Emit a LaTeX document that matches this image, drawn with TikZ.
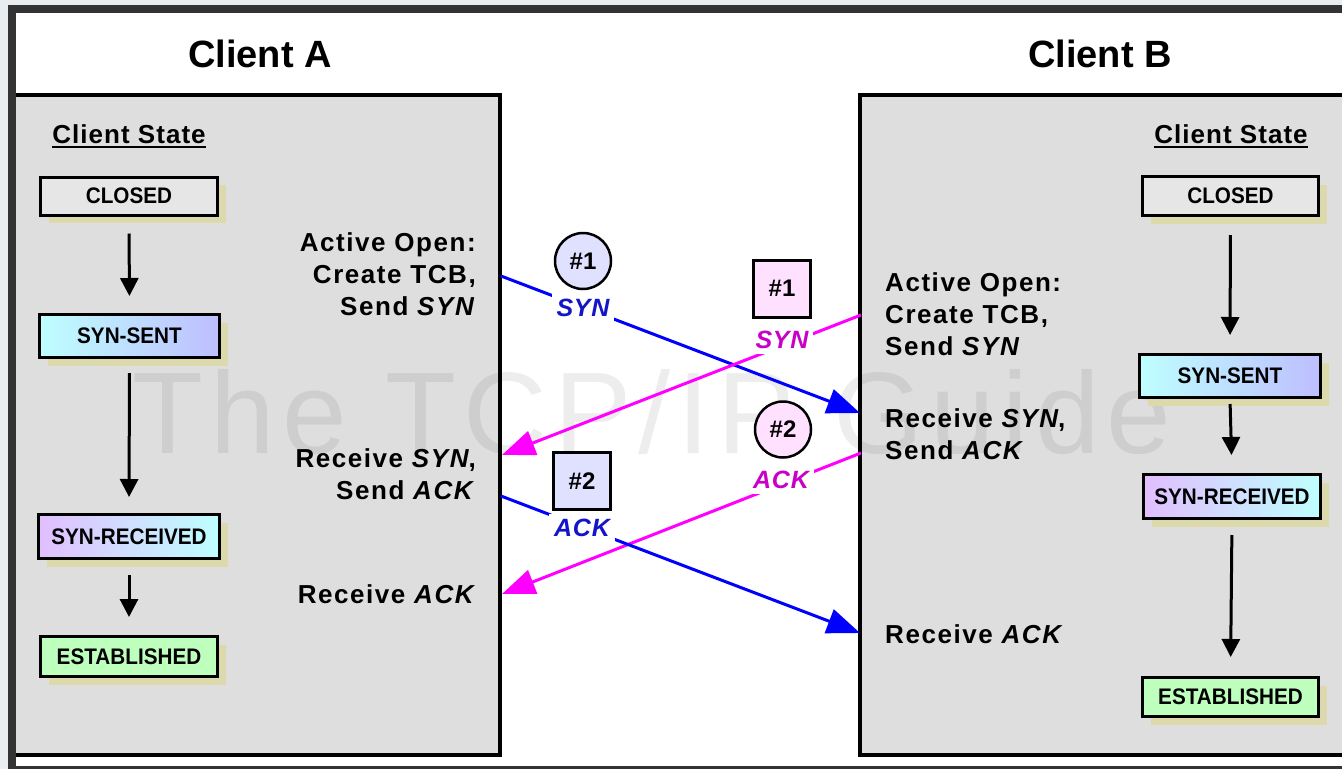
\documentclass[tikz,border=0pt]{standalone}
\usepackage{fontspec}
\setmainfont{Liberation Sans}
\newfontfamily\labfont{Liberation Sans}[LetterSpace=6]
\newfontfamily\msgfont{Liberation Sans}[LetterSpace=3]
\newfontfamily\csfont{Liberation Sans}[LetterSpace=4]
\newfontfamily\statefont{Liberation Sans}[FakeStretch=0.92]
\newfontfamily\wmfont{Liberation Sans}[LetterSpace=6]
\usetikzlibrary{arrows.meta,shadows}
\definecolor{panelgray}{RGB}{222,222,222}
\definecolor{framedark}{RGB}{51,51,51}
\definecolor{framelight}{RGB}{233,237,240}
\definecolor{shadowkhaki}{RGB}{220,217,172}
\definecolor{closedfill}{RGB}{230,230,230}
\definecolor{cyanfill}{RGB}{190,255,255}
\definecolor{lavfill}{RGB}{190,190,255}
\definecolor{purplefill}{RGB}{225,190,255}
\definecolor{greenfill}{RGB}{190,255,190}
\definecolor{bluemsg}{RGB}{0,0,255}
\definecolor{magmsg}{RGB}{255,0,255}
\definecolor{bluetxt}{RGB}{20,20,200}
\definecolor{magtxt}{RGB}{200,0,200}
\definecolor{numblue}{RGB}{224,224,255}
\definecolor{numpink}{RGB}{255,224,255}
\begin{document}
\begin{tikzpicture}[x=1pt,y=-1pt,
  statebox/.style={draw=black, line width=3pt, inner sep=0pt,
    font=\statefont\bfseries\fontsize{22.5}{24}\selectfont,
    drop shadow={shadow xshift=8pt, shadow yshift=-8pt, fill=shadowkhaki, opacity=1}},
  sarrow/.style={line width=3pt, -{Triangle[length=18pt,width=18pt]}},
  msgblue/.style={draw=bluemsg, line width=3pt, -{Triangle[length=33pt,width=25pt]}},
  msgmag/.style={draw=magmsg, line width=3pt, -{Triangle[length=33pt,width=25pt]}},
  msglab/.style={fill=white, inner xsep=5pt, inner ysep=5pt,
    font=\msgfont\bfseries\itshape\fontsize{25}{28}\selectfont},
  numcirc/.style={circle, draw=black, line width=2.5pt, minimum size=56pt, inner sep=0pt,
    font=\bfseries\fontsize{24}{28}\selectfont},
  numsq/.style={draw=black, line width=3pt, minimum size=57pt, inner sep=0pt,
    font=\bfseries\fontsize{24}{28}\selectfont},
  side/.style={inner sep=0pt, font=\labfont\bfseries\fontsize{26}{28}\selectfont},
  title/.style={inner sep=0pt, font=\bfseries\fontsize{38}{44}\selectfont},
  cstate/.style={inner sep=0pt, font=\csfont\bfseries\fontsize{26}{28}\selectfont},
  wm/.style={inner sep=0pt, text=black, text opacity=0.07, font=\wmfont\fontsize{116}{120}\selectfont}
]
\useasboundingbox (0,0) rectangle (1342,769);
% screenshot frame
\fill[framelight] (0,0) rectangle (1342,769);
\fill[framedark] (8,5) rectangle (1342,769);
\fill[white] (16,13) rectangle (1342,766);
% panels
\fill[panelgray] (16,95) rectangle (500,755);
\draw[line width=3.5pt] (16,95) -- (500,95) -- (500,755) -- (16,755);
\fill[panelgray] (860,95) rectangle (1342,755);
\draw[line width=3.5pt] (1345,95) -- (860,95) -- (860,755) -- (1345,755);
% watermark
\node[wm, anchor=base] (wm) at (652,453) {The TCP/IP Guide};
% titles
\node[title, anchor=base] (titleA) at (260,67) {Client A};
\node[title, anchor=base] (titleB) at (1100,67) {Client B};
\node[cstate, anchor=base] (csA) at (129,143) {Client State};
\node[cstate, anchor=base] (csB) at (1231,143) {Client State};
\draw[line width=2pt] ([yshift=-4pt]csA.base west) -- ([yshift=-4pt]csA.base east);
\draw[line width=2pt] ([yshift=-4pt]csB.base west) -- ([yshift=-4pt]csB.base east);
% client A states
\node[statebox, fill=closedfill, minimum width=177pt, minimum height=38pt] (aClosed) at (129,196) {CLOSED};
\node[statebox, left color=cyanfill, right color=lavfill, minimum width=180pt, minimum height=43pt] (aSent) at (129.5,336) {SYN-SENT};
\node[statebox, left color=purplefill, right color=cyanfill, minimum width=181pt, minimum height=44pt] (aRecv) at (129,536.5) {SYN-RECEIVED};
\node[statebox, fill=greenfill, minimum width=177pt, minimum height=40pt] (aEst) at (129,656.5) {ESTABLISHED};
\draw[sarrow, shorten <=17pt, shorten >=17pt] (aClosed.south) -- (aSent.north);
\draw[sarrow, shorten <=14pt, shorten >=16pt] (aSent.south) -- (aRecv.north);
\draw[sarrow, shorten <=15pt, shorten >=18pt] (aRecv.south) -- (aEst.north);
% client B states
\node[statebox, fill=closedfill, minimum width=176pt, minimum height=39pt] (bClosed) at (1230.5,196) {CLOSED};
\node[statebox, left color=cyanfill, right color=lavfill, minimum width=181pt, minimum height=43pt] (bSent) at (1230,376) {SYN-SENT};
\node[statebox, left color=purplefill, right color=cyanfill, minimum width=177pt, minimum height=44pt] (bRecv) at (1232,496.5) {SYN-RECEIVED};
\node[statebox, fill=greenfill, minimum width=176pt, minimum height=39pt] (bEst) at (1230.5,697) {ESTABLISHED};
\draw[sarrow, shorten <=18pt, shorten >=18pt] (bClosed.south) -- (bSent.north);
\draw[sarrow, shorten <=5pt, shorten >=18pt] (bSent.south) -- (bRecv.north);
\draw[sarrow, shorten <=15pt, shorten >=19pt] (bRecv.south) -- (bEst.north);
% side labels A
\node[side, anchor=base east] (aL1) at (476,251) {Active Open:};
\node[side, anchor=base east] (aL2) at (476,283) {Create TCB,};
\node[side, anchor=base east] (aL3) at (476,315) {Send \textit{SYN}};
\node[side, anchor=base east] (aL4) at (476,467) {Receive \textit{SYN},};
\node[side, anchor=base east] (aL5) at (476,499) {Send \textit{ACK}};
\node[side, anchor=base east] (aL6) at (477,603) {Receive \textit{ACK}};
% side labels B
\node[side, anchor=base west] (bL1) at (885,291) {Active Open:};
\node[side, anchor=base west] (bL2) at (885,323) {Create TCB,};
\node[side, anchor=base west] (bL3) at (885,355) {Send \textit{SYN}};
\node[side, anchor=base west] (bL4) at (885,427) {Receive \textit{SYN},};
\node[side, anchor=base west] (bL5) at (885,459) {Send \textit{ACK}};
\node[side, anchor=base west] (bL6) at (885,643) {Receive \textit{ACK}};
% message endpoints
\coordinate (aSynOut) at (501,276);
\coordinate (bSynIn) at (860,413);
\coordinate (bSynOut) at (861,315);
\coordinate (aSynIn) at (502,455);
\coordinate (bAckOut) at (861,453);
\coordinate (aAckIn) at (502,594);
\coordinate (aAckOut) at (501,496);
\coordinate (bAckIn) at (860,633);
\draw[msgblue] (aSynOut) -- (bSynIn);
\draw[msgmag] (bSynOut) -- (aSynIn);
\draw[msgmag] (bAckOut) -- (aAckIn);
\draw[msgblue] (aAckOut) -- (bAckIn);
% message labels
\node[msglab, text=bluetxt] (synA) at (583,308) {SYN};
\node[msglab, text=magtxt] (synB) at (782,340) {SYN};
\node[msglab, text=magtxt] (ackB) at (781,480) {ACK};
\node[msglab, text=bluetxt] (ackA) at (582,528) {ACK};
% number markers
\node[numcirc, fill=numblue] (n1A) at (583,261) {\#1};
\node[numsq, fill=numpink] (n1B) at (782,288.5) {\#1};
\node[numcirc, fill=numpink] (n2B) at (783,429.5) {\#2};
\node[numsq, fill=numblue] (n2A) at (582,481) {\#2};
\end{tikzpicture}
\end{document}
